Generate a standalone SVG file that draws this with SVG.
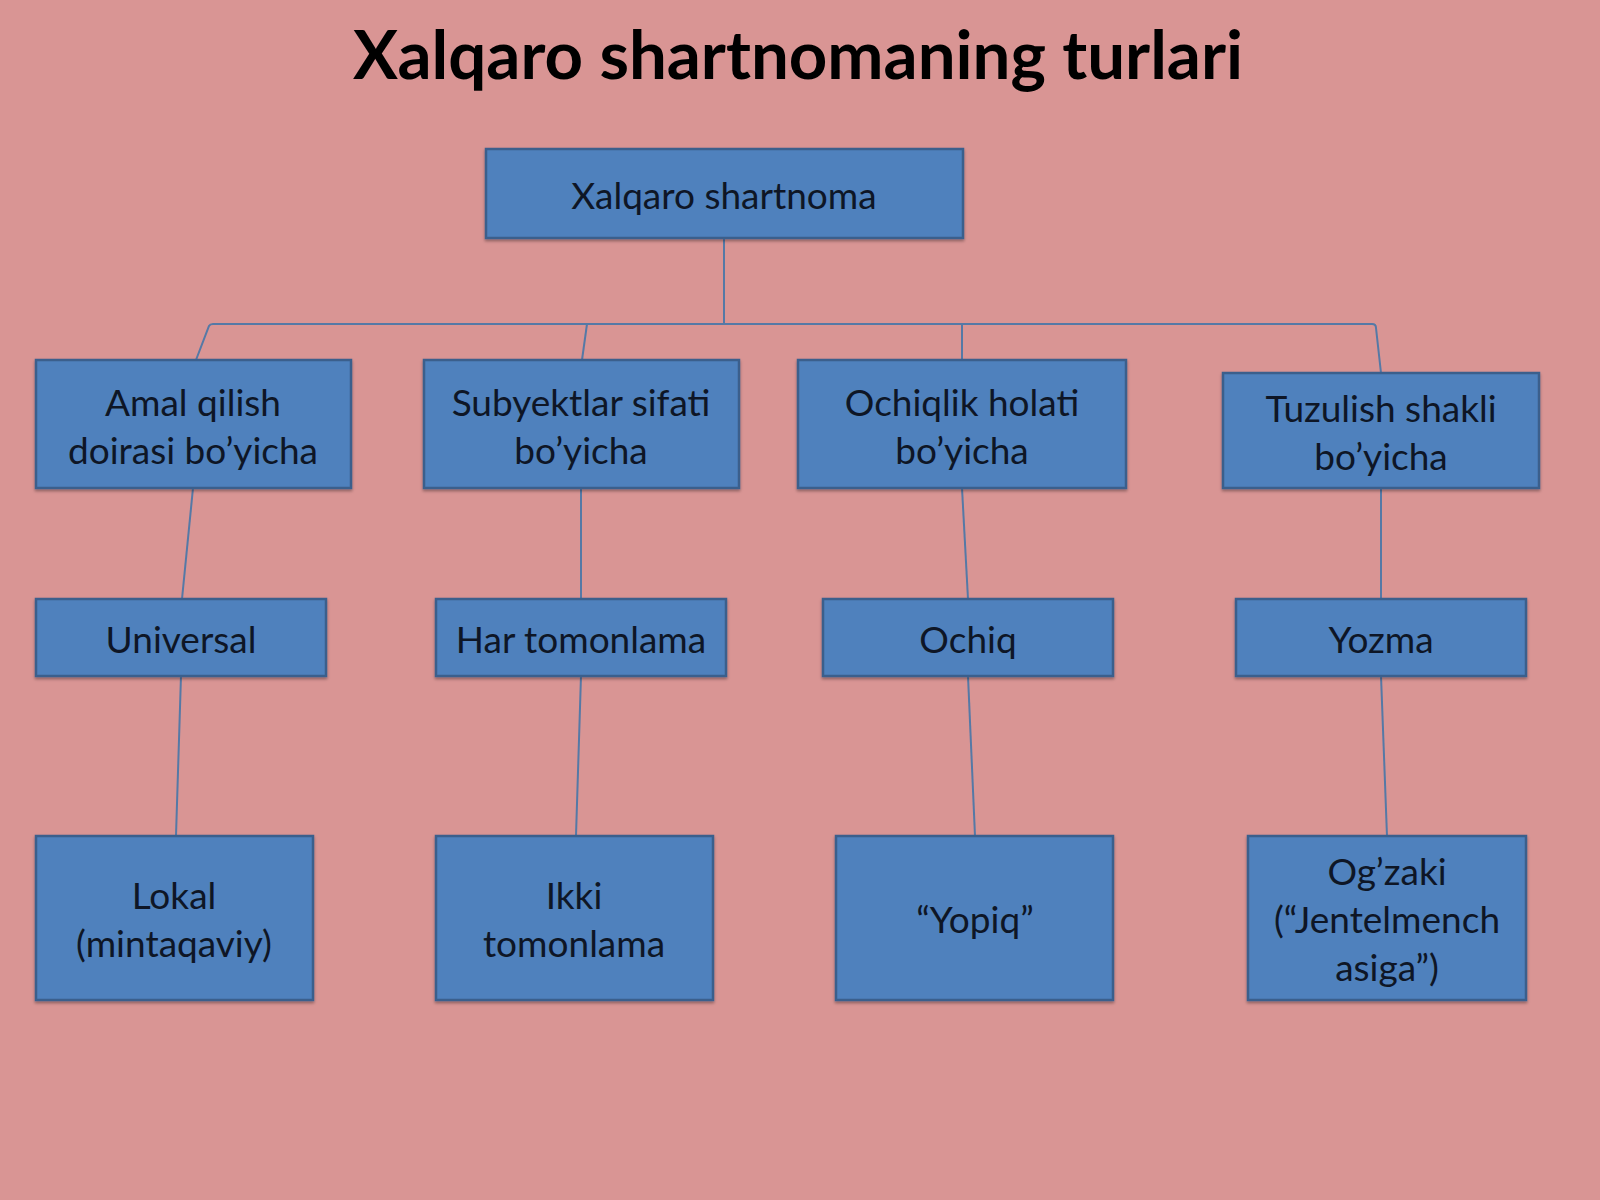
<svg xmlns="http://www.w3.org/2000/svg" width="1600" height="1200" viewBox="0 0 1600 1200">
  <defs>
    <filter id="sh" x="-5%" y="-5%" width="110%" height="115%">
      <feDropShadow dx="0" dy="2" stdDeviation="1.5" flood-color="#000" flood-opacity="0.35"/>
    </filter>
  </defs>
  <style>
    .box { fill: #4F81BD; stroke: #3A5F8C; stroke-width: 2.5; filter: url(#sh); }
    .lbl { font-family: Lato, "Liberation Sans", sans-serif; font-size: 37px; fill: #0E1626; text-anchor: middle; }
    .title { font-family: Lato, "Liberation Sans", sans-serif; font-size: 66px; font-weight: bold; fill: #000; text-anchor: middle; }
    .conn { fill: none; stroke: #5579A6; stroke-width: 2; }
  </style>
  <rect x="0" y="0" width="1600" height="1200" fill="#D99594"/>
  <text class="title" x="798" y="79" textLength="890" lengthAdjust="spacingAndGlyphs">Xalqaro shartnomaning turlari</text>

  <g id="connectors">
    <path class="conn" d="M724,238 L724,324"/>
    <path class="conn" d="M196,360 L209,326 Q210,324 213,324 L1372,324 Q1376,324 1376,328 L1381,373"/>
    <path class="conn" d="M587,324 L582,360"/>
    <path class="conn" d="M962,324 L962,360"/>
    <path class="conn" d="M193,488 L182,599"/>
    <path class="conn" d="M581,488 L581,599"/>
    <path class="conn" d="M962,488 L968,599"/>
    <path class="conn" d="M1381,488 L1381,599"/>
    <path class="conn" d="M181,676 L176,836"/>
    <path class="conn" d="M581,676 L576,836"/>
    <path class="conn" d="M968,676 L975,836"/>
    <path class="conn" d="M1381,676 L1387,836"/>
  </g>

  <g id="root">
    <rect class="box" x="486" y="149" width="477" height="89"/>
    <text class="lbl" x="724" y="209">Xalqaro shartnoma</text>
  </g>

  <g id="amal">
    <rect class="box" x="36" y="360" width="315" height="128"/>
    <text class="lbl" x="193" y="416">Amal qilish</text>
    <text class="lbl" x="193" y="464">doirasi bo’yicha</text>
  </g>
  <g id="subyekt">
    <rect class="box" x="424" y="360" width="315" height="128"/>
    <text class="lbl" x="581" y="416">Subyektlar sifati</text>
    <text class="lbl" x="581" y="464">bo’yicha</text>
  </g>
  <g id="ochiqlik">
    <rect class="box" x="798" y="360" width="328" height="128"/>
    <text class="lbl" x="962" y="416">Ochiqlik holati</text>
    <text class="lbl" x="962" y="464">bo’yicha</text>
  </g>
  <g id="tuzulish">
    <rect class="box" x="1223" y="373" width="316" height="115"/>
    <text class="lbl" x="1381" y="422">Tuzulish shakli</text>
    <text class="lbl" x="1381" y="470">bo’yicha</text>
  </g>

  <g id="universal">
    <rect class="box" x="36" y="599" width="290" height="77"/>
    <text class="lbl" x="181" y="653">Universal</text>
  </g>
  <g id="har">
    <rect class="box" x="436" y="599" width="290" height="77"/>
    <text class="lbl" x="581" y="653">Har tomonlama</text>
  </g>
  <g id="ochiq">
    <rect class="box" x="823" y="599" width="290" height="77"/>
    <text class="lbl" x="968" y="653">Ochiq</text>
  </g>
  <g id="yozma">
    <rect class="box" x="1236" y="599" width="290" height="77"/>
    <text class="lbl" x="1381" y="653">Yozma</text>
  </g>

  <g id="lokal">
    <rect class="box" x="36" y="836" width="277" height="164"/>
    <text class="lbl" x="174" y="909">Lokal</text>
    <text class="lbl" x="174" y="957">(mintaqaviy)</text>
  </g>
  <g id="ikki">
    <rect class="box" x="436" y="836" width="277" height="164"/>
    <text class="lbl" x="574" y="909">Ikki</text>
    <text class="lbl" x="574" y="957">tomonlama</text>
  </g>
  <g id="yopiq">
    <rect class="box" x="836" y="836" width="277" height="164"/>
    <text class="lbl" x="975" y="933">“Yopiq”</text>
  </g>
  <g id="ogzaki">
    <rect class="box" x="1248" y="836" width="278" height="164"/>
    <text class="lbl" x="1387" y="885">Og’zaki</text>
    <text class="lbl" x="1387" y="933">(“Jentelmench</text>
    <text class="lbl" x="1387" y="981">asiga”)</text>
  </g>
</svg>
